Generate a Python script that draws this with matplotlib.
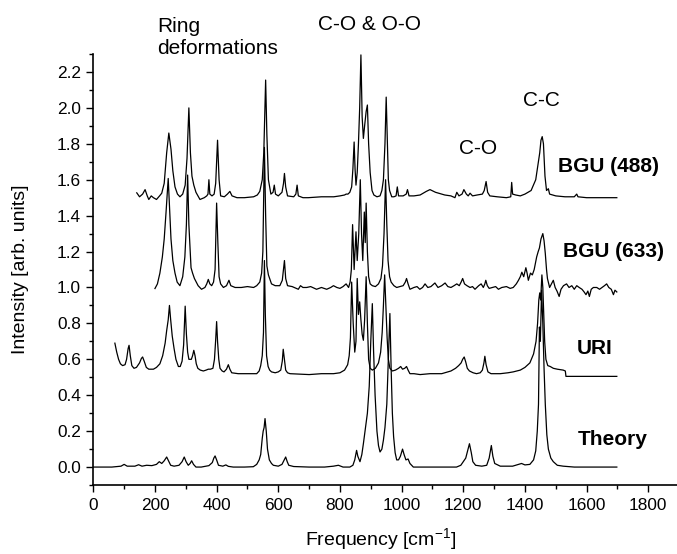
import matplotlib
matplotlib.use("Agg")
import matplotlib.pyplot as plt
from matplotlib.ticker import MultipleLocator, FormatStrFormatter

plt.rcParams['font.family'] = ['Liberation Sans', 'DejaVu Sans']
plt.rcParams['mathtext.default'] = 'regular'

# ---------------- data ----------------
bgu488_x = [141, 150, 160, 168, 175, 180, 188, 195, 205, 215, 222, 230, 238, 245, 252, 258, 265, 273, 281, 290,
            298, 304, 310, 315, 320, 326, 333, 346, 360, 368, 372, 375, 378, 385, 392, 397, 403, 408, 413, 425,
            435, 443, 450, 466, 490, 520, 532, 540, 548, 553, 559, 563, 568, 576, 583, 587, 591, 600, 612, 617,
            620, 624, 630, 650, 657, 661, 665, 680, 697, 740, 780, 800, 815, 820, 826, 832, 838, 842, 846, 849,
            852, 856, 860, 864, 868, 872, 876, 880, 885, 889, 893, 898, 904, 910, 920, 930, 936, 941, 946, 950,
            954, 957, 961, 968, 975, 982, 986, 990, 1005, 1015, 1019, 1024, 1040, 1060, 1080, 1092, 1110, 1140,
            1160, 1173, 1179, 1186, 1196, 1202, 1210, 1216, 1222, 1230, 1245, 1262, 1268, 1274, 1279, 1286,
            1310, 1340, 1354, 1357, 1360, 1370, 1385, 1400, 1420, 1435, 1442, 1448, 1452, 1456, 1460, 1465,
            1470, 1476, 1480, 1500, 1530, 1560, 1568, 1572, 1600, 1650, 1698]
bgu488_y = [1.527, 1.505, 1.52, 1.545, 1.51, 1.49, 1.51, 1.50, 1.49, 1.51, 1.525, 1.58, 1.75, 1.86, 1.77, 1.65,
            1.56, 1.52, 1.505, 1.52, 1.57, 1.72, 2.00, 1.75, 1.62, 1.57, 1.53, 1.49, 1.50, 1.51, 1.52, 1.60,
            1.52, 1.51, 1.52, 1.58, 1.82, 1.60, 1.51, 1.505, 1.52, 1.535, 1.51, 1.50, 1.50, 1.505, 1.515, 1.535,
            1.60, 1.75, 2.155, 1.85, 1.60, 1.52, 1.53, 1.57, 1.52, 1.51, 1.53, 1.58, 1.635, 1.56, 1.51, 1.505,
            1.52, 1.57, 1.51, 1.50, 1.50, 1.505, 1.505, 1.51, 1.515, 1.52, 1.52, 1.53, 1.56, 1.66, 1.81, 1.66,
            1.57, 1.64, 1.80, 2.00, 2.295, 1.95, 1.83, 1.90, 1.98, 2.016, 1.80, 1.64, 1.54, 1.515, 1.505, 1.51,
            1.54, 1.60, 1.80, 2.06, 1.80, 1.60, 1.54, 1.505, 1.505, 1.51, 1.56, 1.51, 1.51, 1.52, 1.545, 1.51,
            1.51, 1.515, 1.535, 1.545, 1.53, 1.515, 1.51, 1.50, 1.53, 1.51, 1.52, 1.545, 1.52, 1.51, 1.525, 1.51,
            1.515, 1.52, 1.54, 1.59, 1.53, 1.51, 1.505, 1.50, 1.505, 1.585, 1.52, 1.515, 1.51, 1.52, 1.54, 1.60,
            1.68, 1.75, 1.82, 1.84, 1.80, 1.62, 1.54, 1.55, 1.52, 1.51, 1.505, 1.505, 1.52, 1.505, 1.50, 1.50, 1.50]

bgu633_x = [200, 208, 216, 224, 230, 236, 243, 248, 252, 258, 265, 272, 281, 290, 297, 302, 306, 310, 317, 322,
            328, 340, 351, 362, 368, 373, 378, 384, 390, 395, 400, 404, 408, 413, 422, 432, 440, 446, 460, 480,
            500, 520, 530, 540, 546, 550, 555, 559, 563, 568, 578, 590, 605, 613, 620, 624, 630, 645, 665, 672,
            680, 692, 705, 724, 740, 757, 770, 779, 790, 800, 810, 820, 828, 833, 837, 841, 846, 849, 852, 856,
            861, 866, 870, 874, 879, 882, 885, 889, 893, 898, 905, 915, 925, 933, 938, 943, 948, 952, 956, 961,
            966, 975, 984, 995, 1005, 1012, 1016, 1021, 1027, 1040, 1050, 1059, 1068, 1076, 1085, 1095, 1108,
            1118, 1130, 1141, 1150, 1160, 1170, 1179, 1187, 1193, 1198, 1204, 1212, 1222, 1230, 1238, 1250,
            1258, 1265, 1270, 1273, 1278, 1284, 1295, 1305, 1314, 1325, 1340, 1352, 1362, 1372, 1379, 1385,
            1390, 1396, 1403, 1407, 1411, 1418, 1424, 1430, 1438, 1443, 1447, 1452, 1458, 1462, 1466, 1470,
            1473, 1480, 1486, 1492, 1498, 1504, 1511, 1517, 1525, 1535, 1543, 1552, 1560, 1568, 1576, 1585,
            1592, 1598, 1604, 1609, 1615, 1622, 1633, 1642, 1650, 1658, 1665, 1672, 1680, 1687, 1692, 1698]
bgu633_y = [0.994, 1.02, 1.08, 1.17, 1.27, 1.42, 1.607, 1.42, 1.27, 1.15, 1.08, 1.03, 1.01, 1.06, 1.17, 1.35,
            1.626, 1.35, 1.11, 1.08, 1.05, 1.01, 0.99, 1.00, 1.02, 1.045, 1.02, 1.01, 1.03, 1.10, 1.47, 1.25,
            1.06, 1.02, 1.00, 1.01, 1.04, 1.01, 1.00, 1.00, 1.005, 1.00, 1.01, 1.03, 1.08, 1.20, 1.78, 1.40,
            1.12, 1.07, 1.02, 1.01, 1.01, 1.04, 1.15, 1.05, 1.01, 1.005, 0.99, 1.01, 1.00, 1.00, 1.005, 0.99,
            1.00, 0.99, 1.00, 1.01, 1.00, 0.995, 1.005, 1.02, 1.00, 1.03, 1.10, 1.35, 1.10, 1.20, 1.31, 1.15,
            1.30, 1.60, 1.30, 1.15, 1.42, 1.25, 1.47, 1.20, 1.06, 1.02, 1.01, 1.005, 1.02, 1.05, 1.12, 1.30,
            1.60, 1.35, 1.15, 1.06, 1.03, 1.01, 1.00, 1.005, 1.01, 1.03, 1.05, 1.02, 0.99, 1.00, 1.005, 0.99,
            1.00, 1.02, 1.00, 1.005, 1.025, 1.00, 1.01, 1.025, 1.005, 1.00, 1.01, 1.02, 1.01, 1.03, 1.05, 1.02,
            1.01, 1.00, 1.005, 0.99, 1.01, 1.02, 1.00, 1.02, 1.04, 1.01, 0.995, 1.00, 1.005, 0.99, 1.00, 1.005,
            0.995, 1.00, 1.02, 1.04, 1.06, 1.085, 1.06, 1.11, 1.08, 1.04, 1.08, 1.07, 1.10, 1.17, 1.20, 1.22,
            1.27, 1.30, 1.26, 1.19, 1.10, 1.05, 1.00, 1.02, 1.04, 1.00, 0.98, 0.95, 0.99, 1.01, 1.02, 1.00,
            1.01, 0.99, 1.01, 1.00, 0.99, 0.975, 0.96, 0.98, 0.95, 0.99, 1.00, 1.00, 0.99, 1.00, 1.01, 1.02,
            1.00, 0.99, 0.96, 0.985, 0.975]

uri_x = [70, 76, 82, 88, 95, 103, 108, 113, 116, 120, 125, 132, 140, 150, 156, 160, 165, 172, 180, 195, 205,
         216, 225, 233, 238, 243, 247, 251, 256, 262, 268, 276, 282, 288, 293, 298, 302, 306, 310, 318, 322,
         326, 330, 334, 339, 347, 357, 366, 373, 380, 388, 393, 397, 400, 403, 407, 411, 418, 424, 432, 438,
         443, 449, 470, 500, 530, 538, 543, 548, 552, 555, 558, 562, 567, 572, 578, 590, 600, 608, 613, 616,
         620, 624, 630, 638, 700, 740, 779, 800, 815, 825, 830, 834, 838, 843, 848, 852, 856, 860, 864, 868,
         872, 876, 880, 885, 889, 893, 898, 905, 915, 925, 932, 937, 941, 945, 949, 953, 957, 962, 970, 980,
         990, 997, 1003, 1010, 1016, 1021, 1027, 1040, 1060, 1092, 1130, 1160, 1175, 1185, 1193, 1198, 1203,
         1208, 1213, 1220, 1232, 1243, 1255, 1262, 1267, 1270, 1274, 1280, 1290, 1320, 1345, 1362, 1385,
         1400, 1416, 1428, 1436, 1441, 1445, 1448, 1451, 1455, 1458, 1461, 1464, 1468, 1474, 1482, 1492,
         1505, 1524, 1531, 1533, 1560, 1620, 1698]
uri_y = [0.69, 0.64, 0.60, 0.575, 0.565, 0.57, 0.60, 0.66, 0.678, 0.62, 0.565, 0.55, 0.555, 0.58, 0.605,
         0.613, 0.59, 0.555, 0.545, 0.545, 0.555, 0.575, 0.62, 0.69, 0.76, 0.82, 0.90, 0.82, 0.73, 0.66, 0.60,
         0.56, 0.56, 0.59, 0.68, 0.896, 0.74, 0.64, 0.60, 0.60, 0.62, 0.65, 0.62, 0.575, 0.55, 0.54, 0.535,
         0.54, 0.545, 0.545, 0.55, 0.60, 0.71, 0.81, 0.70, 0.60, 0.55, 0.535, 0.53, 0.545, 0.57, 0.545, 0.525,
         0.52, 0.52, 0.52, 0.535, 0.565, 0.62, 0.75, 1.15, 0.85, 0.62, 0.56, 0.54, 0.53, 0.525, 0.53, 0.54,
         0.59, 0.656, 0.60, 0.54, 0.525, 0.52, 0.515, 0.52, 0.52, 0.525, 0.54, 0.57, 0.62, 0.72, 1.03, 0.80,
         0.64, 0.70, 1.05, 0.85, 0.92, 0.82, 0.74, 0.706, 0.82, 1.06, 0.80, 0.60, 0.55, 0.54, 0.55, 0.58,
         0.64, 0.75, 0.90, 1.07, 0.90, 0.72, 0.60, 0.55, 0.535, 0.54, 0.55, 0.56, 0.545, 0.55, 0.56, 0.54,
         0.52, 0.52, 0.515, 0.52, 0.52, 0.535, 0.55, 0.565, 0.58, 0.60, 0.613, 0.585, 0.55, 0.535, 0.525,
         0.52, 0.525, 0.54, 0.58, 0.617, 0.57, 0.53, 0.52, 0.52, 0.525, 0.53, 0.54, 0.555, 0.58, 0.63, 0.70,
         0.80, 0.93, 0.97, 0.93, 1.07, 1.00, 0.85, 0.70, 0.60, 0.565, 0.56, 0.55, 0.545, 0.54, 0.535, 0.505,
         0.505, 0.505, 0.505]

theory_x = [0, 60, 90, 100, 110, 135, 147, 158, 173, 190, 205, 214, 222, 230, 238, 244, 251, 262, 278, 288,
            295, 301, 308, 314, 319, 325, 333, 350, 375, 386, 391, 395, 400, 406, 420, 430, 438, 454, 490, 519,
            530, 538, 543, 548, 551, 554, 557, 561, 565, 571, 578, 584, 600, 612, 618, 624, 629, 634, 650, 700,
            750, 779, 795, 810, 832, 842, 848, 854, 858, 865, 871, 876, 883, 889, 895, 900, 905, 909, 914, 920,
            925, 930, 936, 941, 946, 952, 957, 962, 966, 970, 974, 979, 984, 990, 996, 1003, 1008, 1014, 1021,
            1027, 1038, 1100, 1178, 1192, 1200, 1208, 1214, 1220, 1226, 1231, 1240, 1260, 1276, 1284, 1291,
            1296, 1302, 1320, 1360, 1380, 1389, 1400, 1416, 1428, 1435, 1440, 1444, 1447, 1450, 1454, 1458,
            1462, 1466, 1471, 1476, 1484, 1492, 1505, 1524, 1560, 1698]
theory_y = [0.0, 0.0, 0.005, 0.015, 0.005, 0.005, 0.013, 0.005, 0.01, 0.008, 0.015, 0.03, 0.02, 0.035, 0.056,
            0.035, 0.01, 0.005, 0.01, 0.03, 0.056, 0.03, 0.01, 0.02, 0.035, 0.015, 0.0, 0.0, 0.008, 0.025, 0.05,
            0.062, 0.04, 0.01, 0.005, 0.012, 0.004, 0.0, 0.0, 0.002, 0.015, 0.04, 0.07, 0.16, 0.20, 0.22, 0.27,
            0.20, 0.10, 0.04, 0.02, 0.01, 0.005, 0.015, 0.035, 0.056, 0.03, 0.01, 0.003, 0.0, 0.0, 0.005, 0.01,
            0.0, 0.0, 0.01, 0.04, 0.093, 0.06, 0.03, 0.07, 0.13, 0.22, 0.30, 0.45, 0.70, 0.91, 0.65, 0.40, 0.20,
            0.12, 0.084, 0.10, 0.15, 0.22, 0.35, 0.60, 0.855, 0.55, 0.30, 0.17, 0.08, 0.04, 0.04, 0.06, 0.10,
            0.07, 0.04, 0.045, 0.02, 0.0, 0.0, 0.0, 0.01, 0.03, 0.05, 0.09, 0.13, 0.08, 0.03, 0.01, 0.005, 0.01,
            0.05, 0.12, 0.06, 0.02, 0.005, 0.005, 0.015, 0.02, 0.012, 0.015, 0.04, 0.09, 0.20, 0.35, 0.78, 0.70,
            0.985, 0.80, 0.55, 0.35, 0.18, 0.10, 0.05, 0.03, 0.01, 0.005, 0.0, 0.0]

x_ticks = [0, 200, 400, 600, 800, 1000, 1200, 1400, 1600, 1800]
y_ticks = [0.0, 0.2, 0.4, 0.6, 0.8, 1.0, 1.2, 1.4, 1.6, 1.8, 2.0, 2.2]

series_labels = ['BGU (488)', 'BGU (633)', 'URI', 'Theory']
series_label_pos = [(1508, 1.644), (1524, 1.171), (1568, 0.632), (1570, 0.121)]

band_labels = ['Ring', 'deformations', 'C-O & O-O', 'C-O', 'C-C']
band_label_pos = [(206, 2.425), (206, 2.299), (730, 2.434), (1187, 1.743), (1395, 2.011)]

# ---------------- figure ----------------
fig = plt.figure(figsize=(6.77, 5.54), dpi=100)
ax = fig.add_axes([0.1378, 0.1245, 0.8653, 0.778])

for xs, ys in [(bgu488_x, bgu488_y), (bgu633_x, bgu633_y), (uri_x, uri_y), (theory_x, theory_y)]:
    ax.plot(xs, ys, color='black', lw=0.9)

ax.set_xlim(0, 1900)
ax.set_ylim(-0.1, 2.3)
ax.set_xticks(x_ticks)
ax.set_yticks(y_ticks)
ax.xaxis.set_minor_locator(MultipleLocator(100))
ax.yaxis.set_minor_locator(MultipleLocator(0.1))
ax.yaxis.set_major_formatter(FormatStrFormatter('%.1f'))

for s in ['top', 'right']:
    ax.spines[s].set_visible(False)
for s in ['left', 'bottom']:
    ax.spines[s].set_linewidth(1.2)

ax.tick_params(which='major', direction='out', length=5, width=1.0, labelsize=12.4, pad=4)
ax.tick_params(which='minor', direction='out', length=2.8, width=1.0)

ax.set_xlabel('Frequency [cm$^{-1}$]', fontsize=14)
ax.set_ylabel('Intensity [arb. units]', fontsize=14)
ax.xaxis.set_label_coords(0.49, -0.095)
ax.yaxis.set_label_coords(-0.11, 0.5)

for txt, (tx, ty) in zip(series_labels, series_label_pos):
    ax.text(tx, ty, txt, fontsize=15, fontweight='bold', ha='left', va='baseline')
for txt, (tx, ty) in zip(band_labels, band_label_pos):
    ax.text(tx, ty, txt, fontsize=15, ha='left', va='baseline', clip_on=False)

fig.savefig('out.png', dpi=100)
